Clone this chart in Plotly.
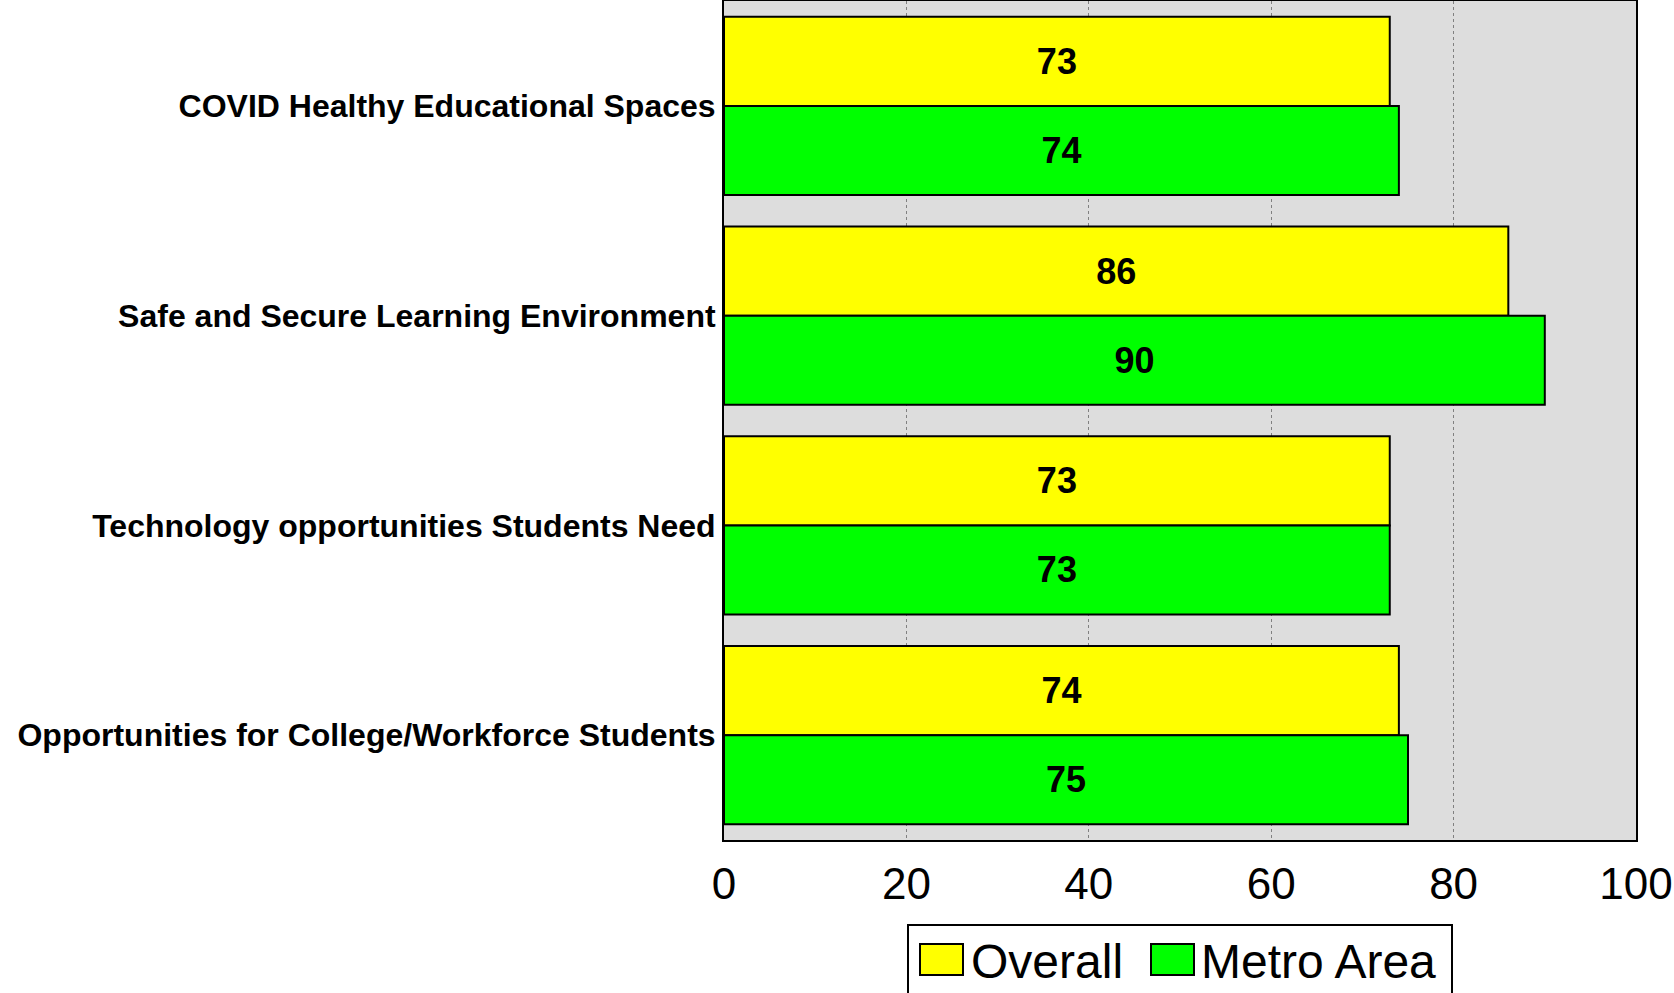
import plotly.graph_objects as go

categories = [
    "COVID Healthy Educational Spaces",
    "Safe and Secure Learning Environment",
    "Technology opportunities Students Need",
    "Opportunities for College/Workforce Students",
]
overall = [73, 86, 73, 74]
metro = [74, 90, 73, 75]
series_names = ["Overall", "Metro Area"]
series_colors = ["#FFFF00", "#00FF00"]
x_ticks = [0, 20, 40, 60, 80, 100]

W, H = 1674, 993
L, R, T, B = 724, 38, 1, 153


# pixel -> paper coords (for the hand-made legend)
def px(x):
    return (x - L) / (W - L - R)


def py(y):
    return (H - B - y) / (H - T - B)


FONT = "Liberation Sans, Arial, sans-serif"

fig = go.Figure()
for name, vals, col in zip(series_names, [overall, metro], series_colors):
    fig.add_trace(go.Bar(
        y=categories, x=vals, name=name, orientation="h",
        marker=dict(color=col, line=dict(color="black", width=2)),
        text=vals, textposition="inside", insidetextanchor="middle",
        textfont=dict(family=FONT, size=36, color="black", weight="bold"),
        showlegend=False,
    ))

# legend box drawn by hand so the swatches can be large
shapes = [dict(type="rect", xref="paper", yref="paper",
               x0=px(908), x1=px(1452), y0=py(1010), y1=py(925),
               line=dict(color="black", width=2), fillcolor="white", layer="above")]
annotations = []
leg_items = [(920, 969), (1151, 1199)]
for (sx, tx), name, col in zip(leg_items, series_names, series_colors):
    shapes.append(dict(type="rect", xref="paper", yref="paper",
                       x0=px(sx), x1=px(sx + 43), y0=py(975), y1=py(944),
                       line=dict(color="black", width=2), fillcolor=col, layer="above"))
    annotations.append(dict(xref="paper", yref="paper", x=px(tx), y=py(961),
                            text=name, showarrow=False, xanchor="left", yanchor="middle",
                            font=dict(family=FONT, size=48, color="black")))

fig.update_layout(
    width=W, height=H,
    margin=dict(l=L, r=R, t=T, b=B, pad=0),
    barmode="group", bargap=0.15, bargroupgap=0,
    plot_bgcolor="#DDDDDD", paper_bgcolor="white",
    font=dict(family=FONT, color="black"),
    shapes=shapes, annotations=annotations,
    xaxis=dict(range=[0, 100], tickvals=x_ticks, showgrid=True,
               gridcolor="#808080", gridwidth=1, griddash="dot",
               showline=True, mirror=True, linecolor="black", linewidth=2,
               zeroline=False, ticks="", ticklabelstandoff=4, automargin=False,
               tickfont=dict(family=FONT, size=44, color="black")),
    yaxis=dict(autorange="reversed", showgrid=False, automargin=False,
               showline=True, mirror=True, linecolor="black", linewidth=2,
               ticks="", ticklabelstandoff=0,
               tickfont=dict(family=FONT, size=32, color="black", weight="bold")),
)

# page body has an 8px default margin; drop it so the figure sits at 0,0
fig.write_html("out.html", config={"displayModeBar": False},
               post_script="document.body.style.margin='0';")
